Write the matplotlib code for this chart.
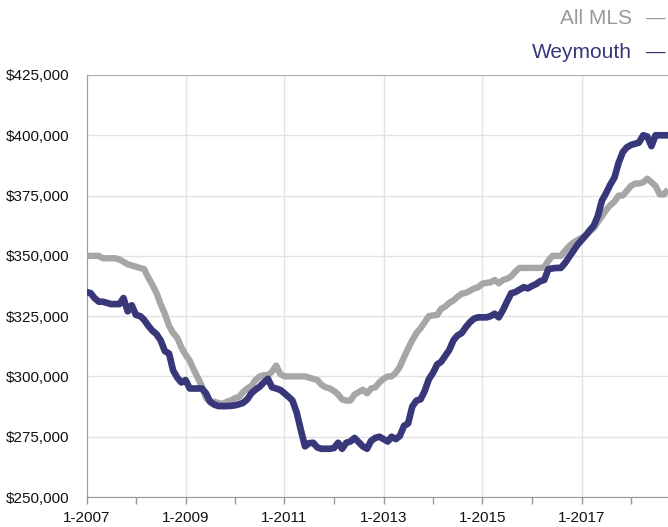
import matplotlib
matplotlib.use("Agg")
import matplotlib.pyplot as plt
import numpy as np
import pandas as pd

plt.rcParams['font.family'] = ['Liberation Sans', 'DejaVu Sans']

months = pd.date_range('2007-01-01', periods=142, freq='MS')

all_mls = [
    350, 350, 350, 350, 349, 349, 349, 349, 348.5, 347.5, 346.5, 346,
    345.5, 345, 344.5, 341, 338, 334.5, 330, 326, 321, 318, 316, 312,
    309, 306.5, 303, 299.5, 296, 291, 289.5, 289.5, 289, 288.5, 289.5, 290,
    291, 291.5, 293.5, 295, 296, 298.5, 300, 300.5, 300.5, 302, 304.5, 301,
    300, 300, 300, 300, 300, 300, 299.5, 299, 298.5, 296.5, 295.5, 295,
    294, 292.5, 290.5, 290, 290, 292.5, 293.5, 294.5, 293, 295, 295.5, 297.5,
    299, 300, 300, 301.5, 304, 308, 311.5, 315, 318, 320, 322.5, 325,
    325.3, 325.5, 328, 329, 330.5, 331.5, 333, 334.3, 334.7, 335.5, 336.5, 337,
    338.5, 338.8, 339, 340, 338.6, 340, 340.5, 341.5, 343.5, 345, 345, 345,
    345, 345, 345, 345.3, 348, 350, 350, 350, 352, 354, 355.5, 356.5,
    357.5, 358.5, 360, 361.5, 364, 366.5, 369, 371, 372.5, 375, 375, 377,
    379, 380, 380, 380.5, 382, 380.5, 379, 375.5, 375.5, 377.5,
]

weymouth = [
    335, 334.5, 332.5, 331, 331, 330.5, 330, 330, 330, 332.5, 327, 329.5,
    325.5, 325, 323.5, 321, 319, 317.5, 315, 310.5, 309.5, 302.5, 299.5, 297.5,
    298.5, 295, 295, 295, 295, 293, 289.5, 288.3, 287.7, 287.7, 287.7, 287.8,
    288, 288.5, 289, 290.5, 293, 294.5, 295.7, 297.5, 299, 295.5, 295, 294.4,
    293, 291.5, 290, 285, 278, 271, 272.3, 272.5, 270.5, 270, 270, 270,
    270.3, 272.5, 270, 272.5, 273, 274.5, 272.8, 271, 270, 273.3, 274.5, 275,
    274, 273, 275, 274, 275.3, 279.5, 280.5, 287.5, 290, 290.5, 294, 298.8,
    301.5, 305, 306, 308.5, 311, 315, 317, 318, 320.5, 322.5, 324, 324.5,
    324.5, 324.5, 325, 326, 324.5, 327.5, 331, 334.5, 335, 336, 337, 336.5,
    337.5, 338.3, 339.5, 340, 344.5, 344.8, 345, 345, 347, 349.5, 352, 354.5,
    356.5, 358.5, 360.5, 362.5, 366.5, 373, 376, 379.5, 382.5, 388.5, 393, 395,
    396, 396.5, 397, 400, 399.5, 395.5, 400, 400, 400, 400,
]

series_names = ['All MLS', 'Weymouth']
y_ticks = [250000, 275000, 300000, 325000, 350000, 375000, 400000, 425000]
x_major_years = [2007, 2009, 2011, 2013, 2015, 2017]
x_minor_years = [2008, 2010, 2012, 2014, 2016, 2018]

gray = '#a6a6a6'
navy = '#373779'

fig = plt.figure(figsize=(6.68, 5.27), dpi=100)
ax = fig.add_axes([86.5 / 668, 30 / 527, 1 - 86.5 / 668, 422 / 527])

ax.plot(months, np.array(all_mls) * 1000, color=gray, lw=4.6,
        solid_joinstyle='round', solid_capstyle='butt', zorder=3)
ax.plot(months, np.array(weymouth) * 1000, color=navy, lw=4.8,
        solid_joinstyle='round', solid_capstyle='butt', zorder=4)

ax.set_xlim(months[0], months[-1])
ax.set_ylim(250000, 425000)
ax.set_yticks(y_ticks)
ax.set_yticklabels(['${:,.0f}'.format(v) for v in y_ticks])

ax.set_xticks([pd.Timestamp(f'{y}-01-01') for y in x_major_years])
ax.set_xticklabels([f'1-{y}' for y in x_major_years])
ax.set_xticks([pd.Timestamp(f'{y}-01-01') for y in x_minor_years], minor=True)

ax.grid(True, which='major', color='#e2e2e2', lw=1.0, zorder=0)
ax.set_axisbelow(True)

ax.spines['right'].set_visible(False)
ax.spines['top'].set_color('#b0b0b0')
ax.spines['left'].set_color('#999999')
ax.spines['bottom'].set_color('#999999')

ax.tick_params(axis='y', length=0, pad=12, labelsize=11, labelcolor='#111111')
ax.tick_params(axis='x', which='major', length=5, width=1, color='#999999',
               pad=5, labelsize=11, labelcolor='#111111')
ax.tick_params(axis='x', which='minor', length=5, width=1, color='#999999')

# legend as text at top right
fig.text(632 / 668, 1 - 18 / 527, series_names[0], ha='right', va='center',
         fontsize=15, color='#9a9a9a')
fig.text(646 / 668, 1 - 18 / 527, '\u2014', ha='left', va='center',
         fontsize=14, color='#9a9a9a')
fig.text(632 / 668, 1 - 52 / 527, series_names[1], ha='right', va='center',
         fontsize=15, color=navy)
fig.text(646 / 668, 1 - 52 / 527, '\u2014', ha='left', va='center',
         fontsize=14, color=navy)

fig.savefig('out.png', dpi=100)
